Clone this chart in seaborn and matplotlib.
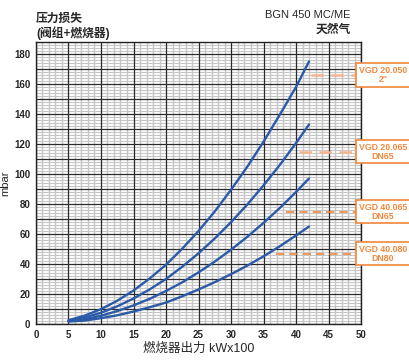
import matplotlib.pyplot as plt
import pandas as pd
import seaborn as sns

# Burner output (kW x100) where the curves were read
output_kw = [5, 7.5, 10, 12.5, 15, 17.5, 20, 22.5, 25, 27.5, 30, 32.5, 35, 37.5, 40, 42]

# Pressure loss (mbar) for each valve train
vgd_20050 = [2.5, 5.6, 9.9, 15.5, 22.3, 30.4, 39.5, 50.2, 62, 75, 89.5, 104.8, 121.5, 139.5, 158, 175]
vgd_20065 = [2.2, 4.3, 7.5, 11.8, 17, 23.1, 30, 38.2, 47.1, 57, 67.9, 79.6, 92.4, 106, 120.6, 133]
vgd_40065 = [1.9, 3.2, 5.5, 8.6, 12.4, 16.8, 22, 27.8, 34.4, 41.6, 49.5, 58.1, 67.4, 77.3, 88, 97]
vgd_40080 = [1.6, 2.3, 3.9, 5.8, 8.3, 11.2, 14.3, 18.5, 23, 27.9, 33.2, 38.9, 45.1, 51.8, 59, 65]

valve_labels = ['VGD 20.050\n2"', 'VGD 20.065\nDN65', 'VGD 40.065\nDN65', 'VGD 40.080\nDN80']
label_levels = [166, 115, 75, 47]
label_starts = [42.3, 40.5, 38.4, 36.9]

df = pd.DataFrame({
    'kw': output_kw * 4,
    'mbar': vgd_20050 + vgd_20065 + vgd_40065 + vgd_40080,
    'valve': [v for v in valve_labels for _ in output_kw],
})

sns.set_style('white')
plt.rcParams['font.family'] = ['Liberation Sans', 'Noto Sans CJK SC']

fig = plt.figure(figsize=(4.1, 3.6), dpi=100)
ax = fig.add_axes([0.0878, 0.1, 0.7927, 0.7833])

blue = '#2a5aa8'
orange = '#f0883c'

# grid paper
for x in range(0, 51):
    if x % 5:
        ax.axvline(x, color='#c6c6c6', lw=1.0, zorder=0)
for y in range(0, 189, 2):
    if y % 10:
        ax.axhline(y, color='#c6c6c6', lw=0.8, zorder=0)
for x in range(0, 51, 5):
    ax.axvline(x, color='#2a2a2a', lw=0.9, zorder=1)
for y in range(0, 189, 10):
    ax.axhline(y, color='#2a2a2a', lw=0.9, zorder=1)

sns.lineplot(data=df, x='kw', y='mbar', hue='valve', palette=[blue] * 4,
             legend=False, lw=1.7, ax=ax, zorder=3)

ax.set_xlim(0, 50)
ax.set_ylim(0, 188)
ax.set_xticks(range(0, 51, 5))
ax.set_yticks(range(0, 181, 20))
ax.tick_params(axis='both', length=3, width=0.8, color='#222222', pad=1, labelsize=7)
for lab in ax.get_xticklabels() + ax.get_yticklabels():
    lab.set_fontweight('bold')
for s in ax.spines.values():
    s.set_color('#222222')
    s.set_linewidth(1.0)

ax.set_xlabel('燃烧器出力 kWx100', fontsize=9, labelpad=2)
ax.set_ylabel('mbar', fontsize=8, labelpad=3)

# valve labels on the right
for i, (lab, lvl, x0) in enumerate(zip(valve_labels, label_levels, label_starts)):
    col = '#f5b58c' if i < 2 else orange
    ax.plot([x0, 49.5], [lvl, lvl], color=col, lw=1.8 if i < 2 else 1.2,
            dashes=(5, 3), clip_on=False, zorder=4)
    ax.text(53.4, lvl, lab, ha='center', va='center', fontsize=6.3,
            fontweight='bold', color=orange, linespacing=1.0, clip_on=False,
            bbox=dict(boxstyle='square,pad=0.3', fc='white', ec=orange, lw=1.2),
            zorder=5)

fig.text(0.088, 0.947, '压力损失', fontsize=8.5, fontweight='bold', va='center')
fig.text(0.088, 0.908, '(阀组+燃烧器)', fontsize=8.5, fontweight='bold', va='center')
fig.text(0.855, 0.958, 'BGN 450 MC/ME', fontsize=8, ha='right', va='center')
fig.text(0.855, 0.917, '天然气', fontsize=8.5, fontweight='bold', ha='right', va='center')

fig.savefig('out.png', dpi=100)
